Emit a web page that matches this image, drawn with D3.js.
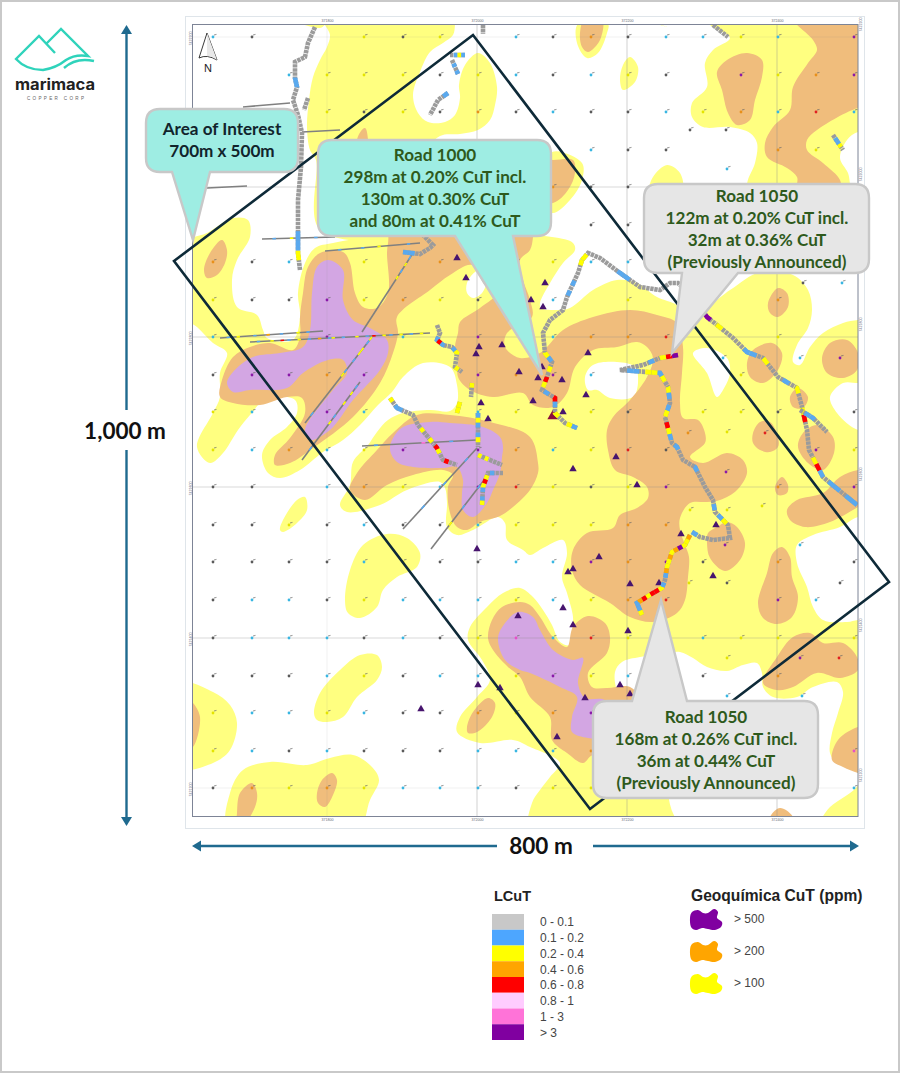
<!DOCTYPE html>
<html>
<head>
<meta charset="utf-8">
<script src="https://cdn.jsdelivr.net/npm/d3@7"></script>
<style>
  body { margin: 0; background: #fff; }
  text { font-family: "Liberation Sans", sans-serif; }
  .note { font-family: Lato, sans-serif; font-weight: 700; text-anchor: middle; }
</style>
</head>
<body>
<svg id="chart" width="900" height="1073"></svg>
<script>
// All map data is digitised in a local grid (easting, southing)

// Geochemistry contours: > 100 ppm
var yellowZones = [
  [[203,124],[220,128],[225,124]],
  [[355,115],[355,124],[353,135],[343,143],[330,152],[320,172],[313,195],[318,213],[328,222],[345,222],[355,215],[360,198],[359,185],[365,165],[378,153],[390,163],[397,187],[395,205],[390,220],[378,230],[360,234],[340,236],[320,260],[320,330],[220,330],[216,260],[210,250],[207,227],[209,200],[213,177],[220,160],[227,147],[230,135],[222,115]],
  [[452,337],[473,343],[475,350],[463,363],[450,383],[440,403],[441,408],[457,410],[470,408],[493,390],[517,380],[537,383],[557,397],[577,405],[590,417],[630,390],[660,372],[693,375],[708,390],[712,410],[708,428],[697,445],[693,462],[700,465],[710,447],[723,433],[743,423],[758,420],[772,420],[772,617],[758,617],[740,627],[713,635],[697,645],[697,663],[707,687],[713,707],[723,720],[747,722],[758,720],[772,720],[772,930],[431,930],[432,903],[440,890],[450,877],[460,863],[430,847],[413,840],[380,843],[357,832],[360,817],[377,797],[390,780],[382,760],[368,740],[370,727],[387,707],[403,693],[420,688],[433,697],[443,710],[452,725],[460,742],[470,745],[472,730],[473,717],[467,693],[462,677],[467,653],[463,640],[443,648],[430,655],[423,650],[407,640],[405,623],[398,617],[373,630],[357,635],[347,627],[347,603],[345,588],[340,582],[307,590],[280,605],[247,612],[240,605],[250,585],[253,562],[268,545],[277,532],[288,520],[303,513],[330,510],[350,511],[357,503],[357,485],[350,467],[323,463],[303,477],[292,492],[278,505],[260,525],[243,540],[223,552],[200,570],[180,578],[168,573],[162,555],[170,540],[187,527],[197,513],[195,500],[167,498],[150,515],[138,530],[123,553],[110,563],[97,547],[113,513],[120,497],[120,473],[127,453],[113,443],[97,427],[85,417],[85,343],[107,333],[133,318],[148,320],[150,337],[137,360],[132,380],[137,407],[157,415],[163,430],[167,438],[193,440],[200,417],[198,393],[205,363],[215,348],[233,343],[280,336],[350,336]],
  [[610,124],[630,138],[613,150],[605,163],[607,187],[592,203],[592,217],[603,227],[630,227],[650,233],[657,243],[655,263],[647,284],[650,330],[772,330],[772,124]],
  [[557,124],[567,127],[558,124]],
  [[530,157],[538,167],[535,182],[523,190],[520,180],[523,165]],
  [[478,124],[477,143],[487,158],[498,153],[507,133],[508,124]],
  [[550,290],[553,277],[567,265],[580,273],[582,290]],
  [[452,252],[482,263],[482,280],[470,300],[452,313],[440,290]],
  [[180,630],[183,620],[197,600],[205,597],[207,610],[197,623],[183,632]],
  [[245,700],[250,670],[263,645],[287,634],[307,638],[320,653],[317,667],[297,677],[283,690],[277,707],[260,718],[248,713]],
  [[214,813],[220,793],[240,770],[260,755],[277,755],[282,767],[277,780],[257,797],[243,817],[227,822],[217,820]],
  [[80,783],[113,792],[130,805],[137,823],[130,850],[113,863],[80,868]],
  [[129,930],[130,893],[143,870],[170,862],[207,865],[230,858],[253,855],[272,867],[279,880],[270,900],[257,930]]
];

// White gaps inside the > 100 ppm contour
var whiteGaps = [
  [[367,383],[375,372],[385,368],[387,380],[382,393],[373,398],[367,393]],
  [[485,477],[493,465],[517,462],[535,467],[538,483],[533,497],[510,498],[497,490],[488,490]],
  [[593,453],[607,448],[627,458],[630,473],[623,490],[617,497],[607,473]],
  [[758,483],[743,483],[730,497],[737,513],[758,530],[775,530],[775,483]],
  [[758,232],[747,240],[740,258],[748,273],[753,290],[775,290],[775,232]],
  [[515,772],[522,762],[540,757],[563,754],[580,752],[593,758],[607,767],[627,771],[643,765],[657,763],[662,773],[663,787],[673,797],[697,797],[713,787],[737,782],[743,792],[738,813],[732,833],[730,853],[737,863],[758,873],[758,885],[730,907],[713,925],[582,925],[560,860],[520,800]]
];

// Geochemistry contours: > 200 ppm
var orangeZones = [
  [[104,370],[110,353],[122,340],[127,350],[125,363],[117,375],[107,378]],
  [[120,497],[122,480],[133,457],[150,447],[170,443],[193,450],[200,437],[200,417],[203,393],[208,367],[220,353],[243,352],[250,363],[255,393],[263,407],[277,408],[288,393],[287,353],[288,333],[265,270],[257,240],[265,228],[280,300],[330,290],[420,270],[433,325],[433,337],[430,350],[420,360],[423,380],[430,400],[432,417],[407,433],[405,447],[420,458],[440,453],[447,447],[463,430],[493,417],[530,410],[557,415],[577,423],[583,447],[582,473],[580,503],[583,518],[598,520],[605,533],[605,543],[590,557],[603,563],[627,553],[643,560],[647,573],[637,590],[620,600],[607,602],[590,603],[580,618],[580,630],[585,645],[589,657],[588,677],[585,700],[577,713],[553,722],[530,717],[510,703],[480,685],[472,670],[473,650],[487,633],[513,628],[520,615],[537,608],[548,598],[547,587],[533,577],[515,570],[508,550],[507,530],[513,517],[530,500],[547,477],[553,458],[547,447],[537,442],[517,447],[493,450],[475,467],[467,493],[453,507],[433,505],[423,493],[393,497],[370,490],[358,477],[358,460],[355,447],[358,433],[360,422],[380,408],[398,392],[385,385],[372,365],[350,375],[330,390],[297,417],[298,433],[293,453],[280,483],[253,517],[213,548],[190,563],[175,565],[175,555],[190,538],[205,513],[202,498],[187,497],[160,505],[133,503]],
  [[453,260],[473,260],[475,273],[468,290],[453,303],[420,300],[430,260]],
  [[293,533],[317,515],[350,515],[390,522],[430,537],[438,563],[438,573],[430,590],[413,607],[400,616],[380,622],[367,630],[357,627],[350,613],[348,587],[353,575],[343,570],[313,575],[287,585],[265,600],[250,590],[257,573],[277,550]],
  [[388,738],[392,720],[402,707],[420,702],[430,705],[440,717],[453,737],[467,747],[473,727],[488,716],[505,723],[510,737],[507,753],[488,773],[492,787],[507,788],[530,787],[540,800],[540,860],[493,855],[483,863],[467,853],[452,840],[450,817],[430,797],[420,777],[408,767],[393,750]],
  [[367,827],[373,812],[388,798],[395,803],[392,817],[377,832],[368,833]],
  [[137,913],[140,893],[152,883],[157,893],[155,907],[143,925],[137,925]],
  [[217,893],[222,880],[232,873],[237,880],[233,895],[225,907],[218,903]],
  [[85,797],[93,803],[100,817],[93,847],[85,850]],
  [[480,133],[485,118],[502,118],[500,140],[488,152],[482,147]],
  [[617,172],[627,160],[647,153],[662,160],[662,177],[655,200],[650,220],[637,225],[628,213],[622,190]],
  [[693,118],[713,140],[717,150],[708,163],[693,187],[690,210],[673,227],[665,243],[667,257],[687,268],[697,277],[698,290],[740,290],[740,280],[723,263],[707,250],[707,240],[717,230],[758,208],[770,208],[770,118]],
  [[668,403],[678,388],[687,393],[688,407],[678,417],[670,413]],
  [[722,458],[730,443],[747,440],[758,453],[757,470],[743,478],[727,473]],
  [[647,463],[653,450],[672,443],[682,453],[678,470],[663,483],[650,477]],
  [[690,497],[698,488],[708,497],[703,508],[693,507]],
  [[653,533],[660,522],[670,522],[678,537],[678,547],[670,552],[660,550],[653,543]],
  [[698,547],[703,533],[717,525],[733,537],[734,553],[723,570],[708,563]],
  [[675,587],[682,577],[688,585],[687,593],[678,595]],
  [[687,610],[697,600],[723,593],[740,577],[758,570],[770,570],[770,600],[758,607],[730,622],[705,627],[690,620]],
  [[607,643],[610,658],[625,671],[640,660],[645,643],[637,627],[627,622],[617,627],[608,633]],
  [[658,703],[667,673],[673,653],[682,647],[690,657],[692,677],[698,697],[692,717],[677,724],[663,718]],
  [[663,783],[677,757],[693,737],[710,733],[723,743],[743,743],[757,757],[758,770],[740,778],[717,773],[693,787],[677,790]],
  [[732,860],[738,840],[758,827],[770,827],[770,875],[758,873],[743,867]],
  [[670,917],[680,908],[693,917],[693,930],[670,930]]
];

// Geochemistry contours: > 500 ppm
var purpleZones = [
  [[228,360],[243,370],[243,400],[253,420],[270,428],[287,440],[288,453],[280,470],[253,500],[230,530],[210,540],[205,530],[233,490],[247,473],[243,460],[228,460],[203,473],[187,488],[150,490],[133,492],[127,483],[133,472],[153,457],[180,453],[203,447],[210,430],[212,393],[217,367]],
  [[290,550],[293,538],[303,527],[330,522],[350,523],[383,527],[400,537],[403,547],[402,557],[400,573],[393,590],[387,603],[373,617],[363,610],[362,593],[363,580],[357,567],[343,568],[313,567],[297,562]],
  [[398,738],[405,723],[418,712],[433,717],[440,730],[453,750],[473,760],[483,758],[478,783],[485,798],[505,800],[520,820],[510,838],[488,838],[472,832],[472,817],[477,797],[460,787],[430,773],[420,770],[405,760]]
];

// Soil sample grid, one letter per sample: g c y o r p m
var sampleE = [113,152,189,227,264,303,340,378,416,453,491,528,566,603,641,678,716,754];
var sampleS = [137,175,212,250,287,325,362,400,437,475,512,550,587,625,662,700,738,776,813,851,888];
var sampleRows = [
  "cg..ygy.cgogccyc.p",
  "..cyyygycgcyg.pyop",
  "...ygygogcggcyocrc",
  "..g.......cgg..oy.",
  ".........ogg......",
  "..........gg......",
  "ogc.y.o.oycc......",
  "yggpyoyg.c.y...o..",
  "c..p.c.p.coor..y..",
  "gppop..popc...y...",
  "yc.pc..cy.yg.yyg.g",
  "ycocyp.pocyrg...py",
  "gg.coycprygyp..o.p",
  "ggygcggcyyyoo.....",
  "ggggcyggccpopg.o.g",
  "gccgycccycyor..pc.",
  "gcccgcgymcry.cyy.y",
  "gggcygccypyc.g.o..",
  "yccycggoyop.......",
  "ycgcgggccco......m",
  "goyoycccgyy......c"
];
var extraSamples = [
  [590,230,"g"],[626,230,"g"],[627,269,"c"],[703,383,"g"],[742,383,"c"],[623,458,"c"],[700,458,"c"],[740,458,"p"],
  [588,533,"o"],[627,532,"y"],[665,533,"r"],[626,572,"p"],[590,610,"y"],[627,610,"y"],[662,606,"y"],[625,645,"p"],
  [700,645,"c"],[589,683,"y"],[627,683,"g"],[740,683,"g"],[627,758,"y"],[700,758,"p"],[739,758,"r"],[627,796,"c"],[702,796,"c"]
];

// Rock chip samples
var rockChips = [
  [357,358],[366,378],[431,400],[443,407],[445,383],[379,447],[376,454],[402,445],[488,453],[442,467],[419,472],[438,478],[462,480],
  [486,495],[433,501],[381,503],[463,512],[388,519],[377,649],[378,785],[400,788],[321,809],[418,716],[516,557],[473,569],[537,585],
  [499,657],[473,669],[468,672],[530,684],[581,634],[559,683],[463,708],[473,725],[528,731],[616,625],[613,676],[520,785],[530,794],[485,798],[457,837]
];
var rockChipLarge = [[453,516]];

// Trench and road sampling: line vertices, then one assay class per equal step
var roads = [
  {pts: [[215,127],[208,143],[205,157],[195,162],[195,178],[197,187],[193,200],[198,215],[202,233],[201,267],[198,300],[198,333],[198,353],[200,370]], assay: "ggggggbgggggggggggggggbbyg"},
  {pts: [[208,198],[204,210]], assay: "gg"},
  {pts: [[383,125],[383,134]], assay: "g"},
  {pts: [[613,125],[628,137]], assay: "gg"},
  {pts: [[733,235],[743,250]], assay: "gbbyg"},
  {pts: [[350,155],[365,155]], assay: "gbyb"},
  {pts: [[352,160],[358,174]], assay: "gbgb"},
  {pts: [[348,193],[338,200],[330,215]], assay: "bgggg"},
  {pts: [[303,352],[320,354],[330,348],[333,345],[323,335]], assay: "bbgggggg"},
  {pts: [[337,425],[340,433],[337,440],[343,445],[352,447],[357,453],[355,467],[362,472]], assay: "gggbrbggbygggyg"},
  {pts: [[372,483],[371,497]], assay: "ygg"},
  {pts: [[360,502],[357,513]], assay: "yy"},
  {pts: [[290,498],[297,508],[313,515],[318,525],[328,537],[337,548],[343,560],[357,565]], assay: "ygbbggggggyggygryggrgg"},
  {pts: [[378,513],[378,547]], assay: "bybgbyg"},
  {pts: [[378,555],[402,565]], assay: "ygygggg"},
  {pts: [[403,573],[388,573],[383,587],[382,605]], assay: "ggbgyrybgby"},
  {pts: [[482,360],[488,353],[500,358],[520,373],[540,387],[560,390],[570,383],[578,383],[595,400],[607,417],[617,425],[633,438],[647,452],[663,458],[678,477],[697,488],[702,507],[707,530],[709,550],[723,577],[735,587],[757,605]], assay: "ygggggbbgggggggggggggpgyggggbbgygggbgyggyrgggggyrbgbbgbb"},
  {pts: [[482,360],[478,373],[467,397],[463,410],[450,420],[443,433],[445,453],[452,462],[447,477],[442,490],[455,498],[455,513],[465,523],[477,528]], assay: "ygggbgbggggggggggggybgygrygbgrbgyggyb"},
  {pts: [[578,455],[560,458],[543,465],[520,470],[560,473],[568,487],[570,503],[565,517],[572,543],[577,547],[583,560],[595,567],[605,587],[613,600],[615,612],[628,625],[630,638],[613,640],[600,637],[592,632]], assay: "prygbggggggbbgyybygybgbygrybgbggggbggggggbgbyggggggggb"},
  {pts: [[590,635],[585,645],[572,652],[567,667],[565,680],[562,688],[553,693],[545,698],[537,703],[542,715]], assay: "oyypoyoyyobgbyrryrobby"},
  {pts: [[700,510],[713,518],[727,532]], assay: "gbbggg"}
];

var drillLines = [
  {pts: [[143,207],[190,203]], assay: "g"},
  {pts: [[202,232],[240,230]], assay: "g"},
  {pts: [[107,288],[147,286]], assay: "g"},
  {pts: [[162,339],[235,337]], assay: "gggbggggyggggggbggggg"},
  {pts: [[225,351],[320,343]], assay: "ggggbggggggbggggyggggggggbggg"},
  {pts: [[120,438],[223,431]], assay: "ggbggyggggbgggogggbggggyggbgggg"},
  {pts: [[150,442],[330,433]], assay: "ggbgggyggrgbggyggbggoggbyggbgggyggbgrggygbggyggbggygg"},
  {pts: [[313,353],[262,432]], assay: "gbgygbgygggggggggggggggg"},
  {pts: [[272,437],[205,523]], assay: "ybgyygbggbyggggggggggbgg"},
  {pts: [[260,482],[202,560]], assay: "gbgyggygggbgygggggggbggg"},
  {pts: [[262,546],[377,540]], assay: "gggbgggggggggggmggggggbgggggg"},
  {pts: [[303,629],[377,548]], assay: "ggggggbggggggbggggggbggg"},
  {pts: [[331,649],[388,575]], assay: "gggggggyggggbgggggbggg"}
];

// Sampling legend
var lcutClasses = ["g","b","y","o","r","l","m","p"];
var lcutLabels = ["0 - 0.1","0.1 - 0.2","0.2 - 0.4","0.4 - 0.6","0.6 - 0.8","0.8 - 1","1 - 3","> 3"];
var geoLabels = ["> 500","> 200","> 100"];
var blobShape = [[0,9],[2,3],[8,1],[13,4],[18,4],[24,0],[28,3],[27,9],[32,13],[31,18],[25,21],[18,20],[12,19],[6,21],[1,18]];

// Grid
var gridE = [227,377,527,677];
var gridS = [137,287,437,587,738,888];
var eastLabels = ["371800","372000","372200","372400"];
var northLabels = ["7422200","7422000","7421800","7421600","7421400","7421200"];

var colors = {g:"#9b9b9b", b:"#5aa9ee", y:"#ffff00", o:"#ffa500", r:"#ff0000", l:"#ffccff", m:"#ff73d8", p:"#8000a0"};
var dotColors = {g:"#5a5a5a", c:"#38b6e2", y:"#e4e400", o:"#e8901a", r:"#e02020", p:"#8a18a8", m:"#e64fc8"};

var svg = d3.select("#chart");
var x = d3.scaleLinear().domain([92,758]).range([192,858]);
var y = d3.scaleLinear().domain([124,916]).range([24,816]);
var blob = d3.line().curve(d3.curveCatmullRomClosed.alpha(0.5)).x(d => x(d[0])).y(d => y(d[1]));
var straight = d3.line().x(d => x(d[0])).y(d => y(d[1]));

// Page and outer map frame
svg.append("rect").attr("x",1).attr("y",1).attr("width",898).attr("height",1071)
  .attr("fill","#fff").attr("stroke","#c9c9c9").attr("stroke-width",2);
svg.append("rect").attr("x",185.5).attr("y",16.5).attr("width",679).attr("height",812)
  .attr("fill","#fff").attr("stroke","#dfe5ea");
svg.append("defs").append("clipPath").attr("id","mapclip").append("rect")
  .attr("x",192).attr("y",24).attr("width",666).attr("height",792);

var map = svg.append("g").attr("clip-path","url(#mapclip)");

function drawZones(zones, fill) {
  map.append("g").selectAll("path").data(zones).join("path").attr("d",blob).attr("fill",fill);
}
drawZones(yellowZones,"#ffff80");
drawZones(whiteGaps,"#ffffff");
drawZones(orangeZones,"#f0bd7c");
drawZones(purpleZones,"#d3a6e3");

// Grid lines
map.append("g").selectAll("line").data(gridE).join("line")
  .attr("x1",d => x(d)).attr("x2",d => x(d)).attr("y1",24).attr("y2",816)
  .attr("stroke","#8c8c8c").attr("stroke-opacity",d => d == 227 ? 0.12 : 0.4);
map.append("g").selectAll("line").data(gridS).join("line")
  .attr("y1",d => y(d)).attr("y2",d => y(d)).attr("x1",192).attr("x2",858)
  .attr("stroke","#8c8c8c").attr("stroke-opacity",d => d == 137 || d == 888 ? 0.12 : 0.32);

// Soil samples
var samples = [];
sampleRows.forEach((row,i) => {
  row.split("").forEach((c,j) => { if (c != ".") samples.push([sampleE[j],sampleS[i],c]); });
});
samples = samples.concat(extraSamples);
var sampleG = map.append("g");
sampleG.selectAll("line").data(samples).join("line")
  .attr("x1",d => x(d[0])+1).attr("y1",d => y(d[1])-2).attr("x2",d => x(d[0])+3.5).attr("y2",d => y(d[1])-2.6)
  .attr("stroke","#666").attr("stroke-width",0.7);
sampleG.selectAll("circle").data(samples).join("circle")
  .attr("cx",d => x(d[0])).attr("cy",d => y(d[1])).attr("r",1.4)
  .attr("fill",d => dotColors[d[2]]);

// Rock chips
var tri = d3.symbol().type(d3.symbolTriangle);
map.append("g").selectAll("path").data(rockChips).join("path")
  .attr("d",tri.size(24)())
  .attr("transform",d => "translate("+x(d[0])+","+y(d[1])+")")
  .attr("fill","#47146e");
map.append("g").selectAll("path").data(rockChipLarge).join("path")
  .attr("d",tri.size(55)())
  .attr("transform",d => "translate("+x(d[0])+","+y(d[1])+")")
  .attr("fill","#8a0a3a");

// Sampled lines: a grey base with the assay steps painted over it
function drawSampled(list, width, dash, baseColor) {
  list.forEach(line => {
    var g = map.append("g");
    var base = g.append("path").attr("d",straight(line.pts)).attr("fill","none")
      .attr("stroke",baseColor).attr("stroke-width",width).attr("stroke-dasharray",dash);
    var len = base.node().getTotalLength();
    var step = len / line.assay.length;
    line.assay.split("").forEach((c,i) => {
      if (c == "g") return;
      g.append("path").attr("d",straight(line.pts)).attr("fill","none")
        .attr("stroke",colors[c]).attr("stroke-width",width)
        .attr("stroke-dasharray","0,"+(i*step)+","+step+","+len);
    });
  });
}
drawSampled(drillLines,1.6,"none","#808080");
drawSampled(roads,4.6,"3.4 0.7",colors.g);

// Map ticks through d3 axes
var axisFont = g => g.call(s => s.select(".domain").remove())
  .selectAll("text").attr("font-size",3.6).attr("fill","#667");
svg.append("g").attr("transform","translate(0,24)")
  .call(d3.axisTop(x).tickValues(gridE).tickFormat((d,i) => eastLabels[i]).tickSize(0).tickPadding(2)).call(axisFont);
svg.append("g").attr("transform","translate(0,816)")
  .call(d3.axisBottom(x).tickValues(gridE).tickFormat((d,i) => eastLabels[i]).tickSize(0).tickPadding(2)).call(axisFont);
var leftAxis = svg.append("g").attr("transform","translate(192,0)")
  .call(d3.axisLeft(y).tickValues(gridS).tickFormat((d,i) => northLabels[i]).tickSize(0).tickPadding(2)).call(axisFont);
leftAxis.selectAll("text").attr("transform",function() { return "rotate(-90 "+this.getAttribute("x")+" 0) translate(6,1)"; });
var rightAxis = svg.append("g").attr("transform","translate(858,0)")
  .call(d3.axisRight(y).tickValues(gridS).tickFormat((d,i) => northLabels[i]).tickSize(0).tickPadding(2)).call(axisFont);
rightAxis.selectAll("text").attr("transform",function() { return "rotate(-90 "+this.getAttribute("x")+" 0) translate(6,1)"; });

svg.append("rect").attr("x",192.5).attr("y",24.5).attr("width",665.5).attr("height",792)
  .attr("fill","none").attr("stroke","#7d8496").attr("stroke-width",1);

// Area of interest
svg.append("path").attr("d","M174,261 L473,35 L889,582 L590,809 Z")
  .attr("fill","none").attr("stroke","#0e2a38").attr("stroke-width",2.6).attr("stroke-linejoin","miter");

// Callouts
function callout(x0,y0,x1,y1,baseA,baseB,tipX,tipY,fill) {
  var r = 14, side = tipY > y1 ? "bottom" : "top";
  var p = "M"+(x0+r)+","+y0;
  if (side == "top") p += " L"+baseA+","+y0+" L"+tipX+","+tipY+" L"+baseB+","+y0;
  p += " L"+(x1-r)+","+y0+" Q"+x1+","+y0+" "+x1+","+(y0+r)+" L"+x1+","+(y1-r)+" Q"+x1+","+y1+" "+(x1-r)+","+y1;
  if (side == "bottom") p += " L"+baseB+","+y1+" L"+tipX+","+tipY+" L"+baseA+","+y1;
  p += " L"+(x0+r)+","+y1+" Q"+x0+","+y1+" "+x0+","+(y1-r)+" L"+x0+","+(y0+r)+" Q"+x0+","+y0+" "+(x0+r)+","+y0+" Z";
  svg.append("path").attr("d",p).attr("fill",fill).attr("stroke","#c8c8c8").attr("stroke-width",2.4);
}
function note(lines,cx,firstY,color) {
  lines.forEach((t,i) => {
    svg.append("text").attr("class","note").attr("x",cx).attr("y",firstY+i*22)
      .attr("font-size",17.1).attr("fill",color).text(t);
  });
}
callout(146,109,298,172,172,210,193,240,"#9eede3");
note(["Area of Interest","700m x 500m"],222,135,"#11242c");
callout(318,140,551,236,455,513,542,375,"#9eede3");
note(["Road 1000","298m at 0.20% CuT incl.","130m at 0.30% CuT","and 80m at 0.41% CuT"],435,161,"#2e5a1c");
callout(644,184,869,273,682,738,672,353,"#e6e6e6");
note(["Road 1050","122m at 0.20% CuT incl.","32m at 0.36% CuT","(Previously Announced)"],757,202,"#2e5a1c");
callout(593,701,818,798,632,687,661,600,"#e6e6e6");
note(["Road 1050","168m at 0.26% CuT incl.","36m at 0.44% CuT","(Previously Announced)"],706,723,"#2e5a1c");

// Dimension arrows
var arrowColor = "#1f6a8f";
function dimLine(x1,y1,x2,y2) {
  svg.append("line").attr("x1",x1).attr("y1",y1).attr("x2",x2).attr("y2",y2)
    .attr("stroke",arrowColor).attr("stroke-width",2.4);
}
dimLine(126.5,32,126.5,410); dimLine(126.5,450,126.5,818);
dimLine(200,846,497,846); dimLine(593,846,850,846);
[[126.5,25,0],[126.5,826,180],[192,846,-90],[859,846,90]].forEach(a => {
  svg.append("path").attr("d","M0,0 L5.5,9 L-5.5,9 Z").attr("fill",arrowColor)
    .attr("transform","translate("+a[0]+","+a[1]+") rotate("+a[2]+")");
});
svg.append("text").attr("class","note").attr("x",125).attr("y",439).attr("font-size",22.5).attr("fill","#111").text("1,000 m");
svg.append("text").attr("class","note").attr("x",541).attr("y",854).attr("font-size",22.5).attr("fill","#111").text("800 m");

// North arrow
svg.append("path").attr("d","M207,33 L199,58 Q207,54 217,60 Z").attr("fill","#fff").attr("stroke","#222").attr("stroke-width",0.9);
svg.append("path").attr("d","M207,33 L207,56 Q212,56 217,60 Z").attr("fill","#e8e8e8").attr("stroke","none");
svg.append("text").attr("x",208).attr("y",72).attr("text-anchor","middle").attr("font-size",11).attr("fill","#222").text("N");

// Logo
var logo = svg.append("g").attr("fill","none").attr("stroke","#2fd3bb").attr("stroke-width",2.4).attr("stroke-linejoin","miter");
logo.append("path").attr("d","M55,53 L39,36 L16,59 Q26,70 43,70 Q56,68 66,60 Q75,54 88,56 L61,29 L47,43");
logo.append("path").attr("d","M64,68 Q76,57 94,61");
svg.append("text").attr("x",15).attr("y",90).style("font-family","Inter, sans-serif")
  .attr("font-weight",700).attr("font-size",15.5).attr("textLength",80).attr("lengthAdjust","spacingAndGlyphs").attr("fill","#222").text("marimaca");
svg.append("text").attr("x",27).attr("y",100).attr("font-size",4.6).attr("textLength",57).attr("fill","#666").text("COPPER CORP");

// Legends
svg.append("text").attr("x",494).attr("y",901).attr("font-weight",700).attr("font-size",14.5).attr("fill","#222").text("LCuT");
var legendY = d3.scaleBand().domain(lcutClasses).range([914,1040]);
var legendColors = Object.assign({}, colors, {g:"#c8c8c8", b:"#4da6ff"});
svg.append("g").selectAll("rect").data(lcutClasses).join("rect")
  .attr("x",492).attr("y",d => legendY(d)).attr("width",32).attr("height",legendY.bandwidth())
  .attr("fill",d => legendColors[d]);
svg.append("g").selectAll("text").data(lcutClasses).join("text")
  .attr("x",540).attr("y",d => legendY(d)+legendY.bandwidth()/2+4.5)
  .attr("font-size",12).attr("fill","#444").text((d,i) => lcutLabels[i]);

svg.append("text").attr("x",691).attr("y",901).attr("font-weight",700).attr("font-size",15.6).attr("fill","#222").text("Geoquímica CuT (ppm)");
var geoY = d3.scalePoint().domain(geoLabels).range([909,973]);
var geoColors = ["#8000a0","#ffa500","#ffff00"];
var blobLine = d3.line().curve(d3.curveCatmullRom.alpha(0)).x(d => d[0]).y(d => d[1]);
var blobClosed = d3.line().curve(d3.curveCatmullRomClosed.alpha(0)).x(d => d[0]).y(d => d[1]);
svg.append("g").selectAll("path").data(geoLabels).join("path")
  .attr("d",blobClosed(blobShape))
  .attr("transform",d => "translate(690,"+geoY(d)+")")
  .attr("fill",(d,i) => geoColors[i]);
svg.append("g").selectAll("text").data(geoLabels).join("text")
  .attr("x",734).attr("y",d => geoY(d)+14).attr("font-size",12).attr("fill","#444").text(d => d);
</script>
</body>
</html>
